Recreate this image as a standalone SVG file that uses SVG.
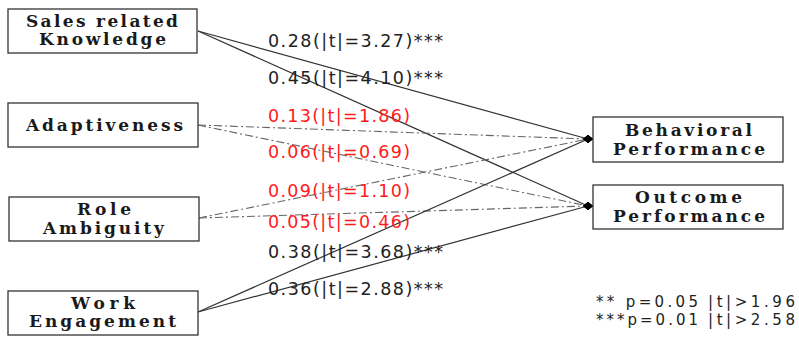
<svg xmlns="http://www.w3.org/2000/svg" width="799" height="339" viewBox="0 0 799 339">
<style>
.box{fill:#fff;stroke:#333;stroke-width:1.3}
.nt{font-family:"DejaVu Serif","Liberation Serif",serif;font-size:17px;font-weight:bold;fill:#1a1a1a}
.lb{font-family:"DejaVu Sans","Liberation Sans",sans-serif;font-size:17.5px;fill:#222}
.red{fill:#ff1a1a}
.lg{font-family:"DejaVu Sans","Liberation Sans",sans-serif;font-size:15px;fill:#222}
.sol{stroke:#333;stroke-width:1.2;fill:none}
.dd{stroke:#666;stroke-width:1.1;fill:none;stroke-dasharray:8 3 2 3}
</style>
<defs>
<marker id="dia" viewBox="0 0 10 8" refX="5" refY="4" markerWidth="10" markerHeight="8" markerUnits="userSpaceOnUse" orient="0">
<path d="M0 4 L5 0 L10 4 L5 8 Z" fill="#000"/>
</marker>
</defs>
<g id="connectors">
<line class="sol" x1="198" y1="31" x2="588" y2="139" marker-end="url(#dia)"/>
<line class="sol" x1="198" y1="31" x2="588" y2="206" marker-end="url(#dia)"/>
<line class="dd" x1="198" y1="125" x2="588" y2="139" marker-end="url(#dia)"/>
<line class="dd" x1="198" y1="125" x2="588" y2="206" marker-end="url(#dia)"/>
<line class="dd" x1="199" y1="218" x2="588" y2="139" marker-end="url(#dia)"/>
<line class="dd" x1="199" y1="218" x2="588" y2="206" marker-end="url(#dia)"/>
<line class="sol" x1="198" y1="312" x2="588" y2="139" marker-end="url(#dia)"/>
<line class="sol" x1="198" y1="312" x2="588" y2="206" marker-end="url(#dia)"/>
</g>
<g id="labels">
<text class="lb" x="268" y="46.5" textLength="175" lengthAdjust="spacing">0.28(|t|=3.27)***</text>
<text class="lb" x="268" y="83.5" textLength="175" lengthAdjust="spacing">0.45(|t|=4.10)***</text>
<text class="lb red" x="268" y="122" textLength="142" lengthAdjust="spacing">0.13(|t|=1.86)</text>
<text class="lb red" x="268" y="158" textLength="142" lengthAdjust="spacing">0.06(|t|=0.69)</text>
<text class="lb red" x="268" y="197" textLength="142" lengthAdjust="spacing">0.09(|t|=1.10)</text>
<text class="lb red" x="268" y="228" textLength="142" lengthAdjust="spacing">0.05(|t|=0.46)</text>
<text class="lb" x="268" y="258" textLength="175" lengthAdjust="spacing">0.38(|t|=3.68)***</text>
<text class="lb" x="268" y="295" textLength="175" lengthAdjust="spacing">0.36(|t|=2.88)***</text>
</g>
<g id="n-sales">
<rect class="box" x="8" y="9" width="189" height="44"/>
<text class="nt" x="26" y="26.5" textLength="152" lengthAdjust="spacing">Sales related</text>
<text class="nt" x="39" y="45" textLength="127" lengthAdjust="spacing">Knowledge</text>
</g>
<g id="n-adapt">
<rect class="box" x="8" y="103" width="190" height="44"/>
<text class="nt" x="26" y="131" textLength="157" lengthAdjust="spacing">Adaptiveness</text>
</g>
<g id="n-role">
<rect class="box" x="9" y="197" width="190" height="44"/>
<text class="nt" x="77" y="215" textLength="54" lengthAdjust="spacing">Role</text>
<text class="nt" x="43" y="233.5" textLength="121" lengthAdjust="spacing">Ambiguity</text>
</g>
<g id="n-work">
<rect class="box" x="8" y="291" width="190" height="44"/>
<text class="nt" x="71" y="308.5" textLength="64" lengthAdjust="spacing">Work</text>
<text class="nt" x="29" y="327" textLength="147" lengthAdjust="spacing">Engagement</text>
</g>
<g id="n-behav">
<rect class="box" x="593" y="117" width="190" height="45"/>
<text class="nt" x="625" y="136" textLength="127" lengthAdjust="spacing">Behavioral</text>
<text class="nt" x="613" y="155" textLength="152" lengthAdjust="spacing">Performance</text>
</g>
<g id="n-outcome">
<rect class="box" x="593" y="185" width="190" height="44"/>
<text class="nt" x="635" y="203" textLength="107" lengthAdjust="spacing">Outcome</text>
<text class="nt" x="613" y="222" textLength="152" lengthAdjust="spacing">Performance</text>
</g>
<g id="legend">
<text class="lg" x="596" y="307" textLength="102" lengthAdjust="spacing">** p=0.05</text>
<text class="lg" x="708" y="307" textLength="87" lengthAdjust="spacing">|t|&gt;1.96</text>
<text class="lg" x="596" y="325" textLength="102" lengthAdjust="spacing">***p=0.01</text>
<text class="lg" x="708" y="325" textLength="87" lengthAdjust="spacing">|t|&gt;2.58</text>
</g>
</svg>
